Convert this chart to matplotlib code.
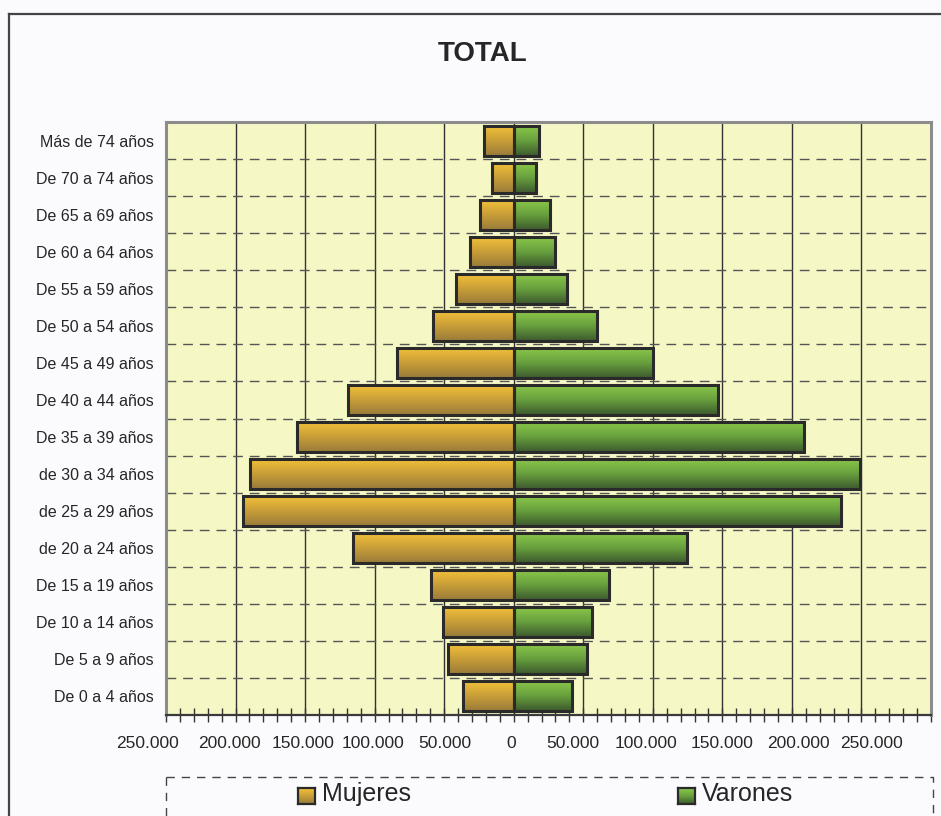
#!/usr/bin/env python3
"""Pirámide de población TOTAL (Mujeres / Varones)."""

import numpy as np
import matplotlib
matplotlib.use("Agg")
import matplotlib.pyplot as plt
from matplotlib.colors import LinearSegmentedColormap
from matplotlib.lines import Line2D
from matplotlib.ticker import FuncFormatter, MultipleLocator
from matplotlib.transforms import ScaledTranslation

plt.rcParams["font.family"] = ["Liberation Sans", "DejaVu Sans"]

# de abajo hacia arriba
CATEGORIES = [
    "De 0 a 4 años", "De 5 a 9 años", "De 10 a 14 años", "De 15 a 19 años",
    "de 20 a 24 años", "de 25 a 29 años", "de 30 a 34 años", "De 35 a 39 años",
    "De 40 a 44 años", "De 45 a 49 años", "De 50 a 54 años", "De 55 a 59 años",
    "De 60 a 64 años", "De 65 a 69 años", "De 70 a 74 años", "Más de 74 años",
]
MUJERES = [36400, 47100, 50700, 59300, 115700, 194300, 189300, 155700,
           119300, 83600, 57900, 41400, 31400, 24300, 15700, 21400]
VARONES = [42100, 52900, 56400, 68600, 124300, 235000, 248600, 208600,
           147100, 100000, 60000, 38600, 30000, 26400, 15700, 17900]
X_TICKS = [-250000, -200000, -150000, -100000, -50000, 0,
           50000, 100000, 150000, 200000, 250000]
LEGEND_LABELS = ["Mujeres", "Varones"]

W, H = 941, 816
TEXT = "#262626"
EDGE = "#2a2a2a"
CMAP_MUJ = LinearSegmentedColormap.from_list("muj", ["#9a7c3a", "#c99e38", "#f4c23a"])
CMAP_VAR = LinearSegmentedColormap.from_list("var", ["#3d5a2e", "#68a03e", "#8cc84a"])
GRAD = np.linspace(0, 1, 64).reshape(-1, 1)
# desplazamiento horizontal (px) de cada etiqueta del eje x, como en Excel
LABEL_SHIFT = [-19, -6, -2, -2, 1, -3, -10, -7, 0, 7, 10]


def fx(px):
    return px / W


def fy(py):
    return 1 - py / H


def gradient_bars(ax, bars, cmap):
    for bar in bars:
        x0, y0 = bar.get_x(), bar.get_y()
        x1, y1 = x0 + bar.get_width(), y0 + bar.get_height()
        im = ax.imshow(GRAD, extent=[min(x0, x1), max(x0, x1), y0, y1],
                       origin="lower", aspect="auto", cmap=cmap,
                       interpolation="bilinear", zorder=2.5)
        im.set_clip_path(bar)


fig = plt.figure(figsize=(W / 100, H / 100), dpi=100)
fig.patch.set_facecolor("#fbfbfd")

# marco exterior (recortado a derecha y abajo)
fig.add_artist(Line2D([fx(9), 1.01], [fy(14), fy(14)], color="#444444", lw=1.6))
fig.add_artist(Line2D([fx(9), fx(9)], [fy(14), -0.01], color="#444444", lw=1.6))

ax = fig.add_axes([fx(166), fy(715), fx(931 - 166), (715 - 122) / H])
ax.set_facecolor("#f5f7c5")

y = np.arange(len(CATEGORIES))
muj = -np.array(MUJERES)
var = np.array(VARONES)

bars_m = ax.barh(y, muj, height=0.81, facecolor="none", edgecolor=EDGE,
                 linewidth=2.2, zorder=3)
bars_v = ax.barh(y, var, height=0.81, facecolor="none", edgecolor=EDGE,
                 linewidth=2.2, zorder=3)
gradient_bars(ax, bars_m, CMAP_MUJ)
gradient_bars(ax, bars_v, CMAP_VAR)

ax.set_xlim(-250000, 300000)
ax.set_ylim(-0.5, len(CATEGORIES) - 0.5)

# rejilla
for xv in X_TICKS:
    ax.axvline(xv, color="#333333", lw=1.0, zorder=1)
for i in range(len(CATEGORIES) - 1):
    ax.axhline(i + 0.5, color="#555555", lw=1.0, ls=(0, (7, 5)), zorder=1)

ax.set_xticks(X_TICKS)
ax.xaxis.set_minor_locator(MultipleLocator(10000))
ax.xaxis.set_major_formatter(
    FuncFormatter(lambda v, p: f"{abs(int(round(v))):,}".replace(",", ".")))
ax.tick_params(axis="x", which="both", direction="inout", length=10,
               width=1.0, color="#333333", labelsize=12.5, labelcolor=TEXT, pad=10)
for lab, dx in zip(ax.get_xticklabels(), LABEL_SHIFT):
    lab.set_transform(lab.get_transform()
                      + ScaledTranslation(dx / 100, 0, fig.dpi_scale_trans))

ax.set_yticks(y)
ax.set_yticklabels(CATEGORIES)
ax.tick_params(axis="y", length=0, labelsize=11.5, labelcolor=TEXT, pad=9)

for side in ("top", "right", "left"):
    ax.spines[side].set_color("#8c8c8c")
    ax.spines[side].set_linewidth(2.2)
ax.spines["bottom"].set_color("#3a3a3a")
ax.spines["bottom"].set_linewidth(1.6)

fig.text(fx(483), fy(54), "TOTAL", ha="center", va="center",
         fontsize=20, fontweight="bold", color=TEXT)

# leyenda
fig.add_artist(Line2D([fx(166), fx(933), fx(933)], [fy(777), fy(777), -0.01],
                      color="#444444", lw=1.0, ls=(0, (6, 5))))
fig.add_artist(Line2D([fx(166), fx(166)], [fy(777), -0.01],
                      color="#444444", lw=1.0, ls=(0, (6, 5))))
for label, cmap, mx in zip(LEGEND_LABELS, [CMAP_MUJ, CMAP_VAR], [298, 678]):
    kax = fig.add_axes([fx(mx), fy(804), fx(17), 16 / H])
    kax.imshow(GRAD, origin="lower", aspect="auto", cmap=cmap,
               extent=[0, 1, 0, 1])
    kax.set_xticks([])
    kax.set_yticks([])
    for s in kax.spines.values():
        s.set_color(EDGE)
        s.set_linewidth(1.6)
    fig.text(fx(mx + 24), fy(794), label, ha="left", va="center",
             fontsize=18, color=TEXT)

fig.savefig("out.png", dpi=100, facecolor=fig.get_facecolor())
